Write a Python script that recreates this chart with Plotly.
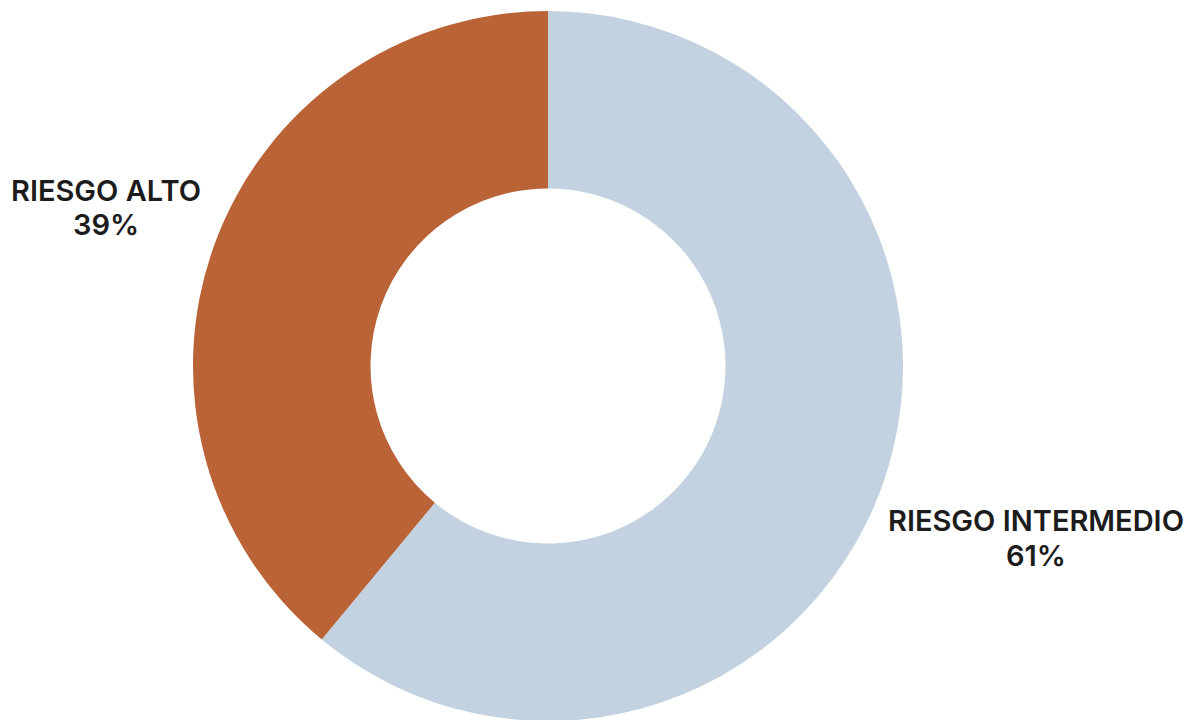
import plotly.graph_objects as go

labels = ["RIESGO INTERMEDIO", "RIESGO ALTO"]
values = [61, 39]
colors = ["#C2D2E0", "#BA6337"]

W, H = 1192, 720
OFF = 8  # page body margin offset

fig = go.Figure()
fig.add_trace(go.Pie(
    labels=labels,
    values=values,
    hole=0.5,
    sort=False,
    direction="clockwise",
    rotation=0,
    marker=dict(colors=colors, line=dict(width=0)),
    textinfo="none",
    hoverinfo="label+percent",
    showlegend=False,
    domain=dict(x=[0, (548 - OFF) * 2 / W], y=[0, 1]),
))

label_pos = {
    "RIESGO ALTO": (106, 190),
    "RIESGO INTERMEDIO": (1036, 525),
}
font = dict(family="Inter, Roboto, sans-serif", size=29, color="#1c1c1c", weight=600)
for lab, val in zip(labels, values):
    x, y = label_pos[lab]
    x -= OFF
    y -= OFF
    fig.add_annotation(x=x / W, y=1 - y / H, xref="paper", yref="paper",
                       text=lab, showarrow=False, font=font, xanchor="center", yanchor="middle")
    fig.add_annotation(x=x / W, y=1 - (y + 35) / H, xref="paper", yref="paper",
                       text=f"{val}%", showarrow=False, font=font, xanchor="center", yanchor="middle")

fig.update_layout(
    width=W, height=H,
    margin=dict(l=0, r=0, t=3, b=7),
    paper_bgcolor="white", plot_bgcolor="white",
)
fig.write_html("out.html")
